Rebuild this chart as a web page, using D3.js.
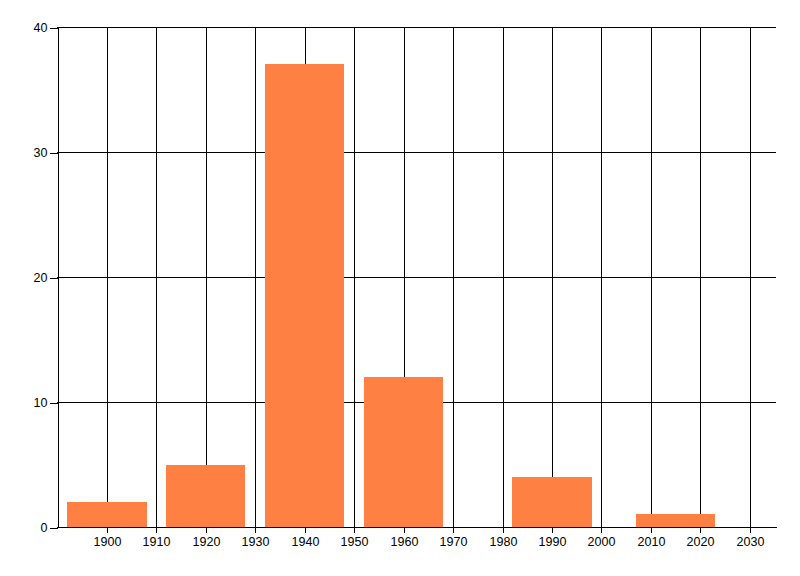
<!DOCTYPE html>
<html><head><meta charset="utf-8">
<script src="https://cdn.jsdelivr.net/npm/d3@7"></script>
<style>
html,body{margin:0;padding:0;background:#fff;}
svg text{font-family:"Liberation Sans Narrow","Liberation Sans",Arial,sans-serif;font-size:12.5px;fill:#000;}
</style></head>
<body><svg id="c" width="800" height="576"></svg>
<script>
const years = [1900, 1920, 1940, 1960, 1990, 2015];
const counts = [2, 5, 37, 12, 4, 1];
const xTickValues = [1900, 1910, 1920, 1930, 1940, 1950, 1960, 1970, 1980, 1990, 2000, 2010, 2020, 2030];
const yTickValues = [0, 10, 20, 30, 40];
const barWidthYears = 16;

const svg = d3.select("#c");
const pL = 57, pR = 776, pT = 27, pB = 527;
const x = d3.scaleLinear().domain([1890, 2035.3]).range([pL + 0.5, pR]);
const y = d3.scaleLinear().domain([0, 40]).range([pB, pT]);

// gridlines
const grid = svg.append("g").attr("shape-rendering", "crispEdges");
grid.selectAll("line.h").data(yTickValues).join("line")
  .attr("x1", pL).attr("x2", pR)
  .attr("y1", d => Math.round(y(d)) + 0.5).attr("y2", d => Math.round(y(d)) + 0.5)
  .attr("stroke", "#000");
grid.selectAll("line.v").data(xTickValues).join("line")
  .attr("x1", d => Math.round(x(d)) + 0.5).attr("x2", d => Math.round(x(d)) + 0.5)
  .attr("y1", pT).attr("y2", pB)
  .attr("stroke", "#000");

// bars
svg.append("g").selectAll("rect").data(years).join("rect")
  .attr("x", (d) => Math.round(x(d - barWidthYears / 2)))
  .attr("width", d => Math.round(x(d + barWidthYears / 2)) - Math.round(x(d - barWidthYears / 2)))
  .attr("y", (d, i) => Math.round(y(counts[i])))
  .attr("height", (d, i) => pB - Math.round(y(counts[i])))
  .attr("fill", "#FF8042");

// axes
const yAxis = svg.append("g").attr("transform", `translate(${pL + 0.5},0.5)`)
  .call(d3.axisLeft(y).tickValues(yTickValues).tickFormat(d3.format("d")).tickSizeInner(8).tickSizeOuter(0).tickPadding(2));
yAxis.selectAll("path,line").attr("stroke", "#000").attr("shape-rendering", "crispEdges");
yAxis.attr("font-size", null).attr("font-family", null);

const xAxis = svg.append("g").attr("transform", `translate(0.5,${pB + 0.5})`)
  .call(d3.axisBottom(x).tickValues(xTickValues).tickFormat(d3.format("d")).tickSizeInner(5).tickSizeOuter(0).tickPadding(5));
xAxis.select("path.domain").attr("d", `M${pL - 0.5},0H${pR}`);
xAxis.selectAll("path,line").attr("stroke", "#000").attr("shape-rendering", "crispEdges");
xAxis.selectAll(".tick").attr("transform", d => `translate(${Math.round(x(d))},0)`);
xAxis.attr("font-size", null).attr("font-family", null);
</script></body></html>
